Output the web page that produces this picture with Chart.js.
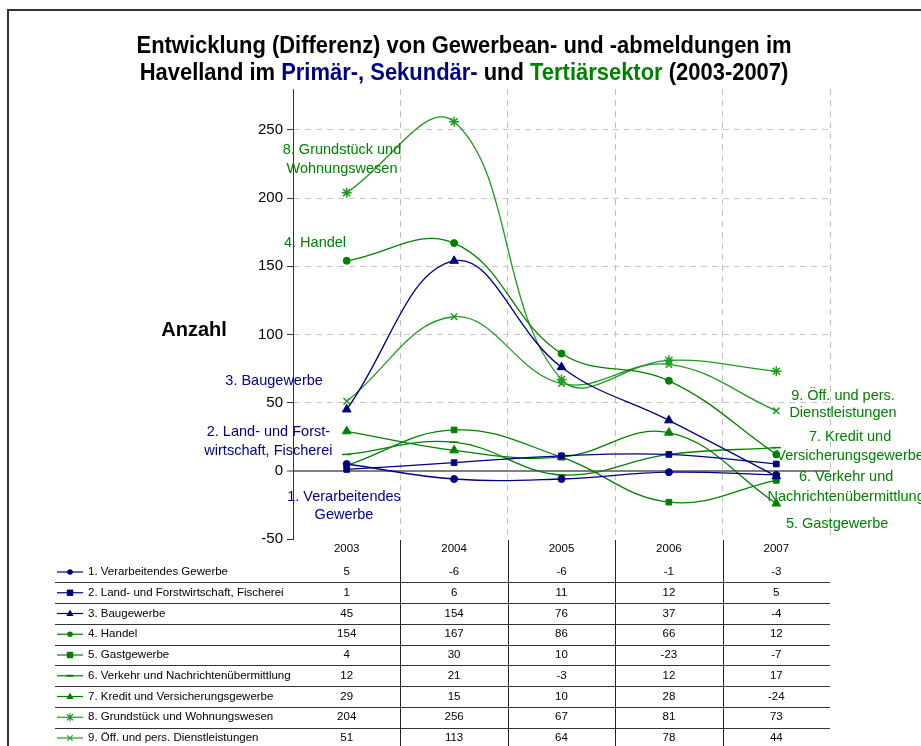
<!DOCTYPE html>
<html>
<head>
<meta charset="utf-8">
<script src="https://cdn.jsdelivr.net/npm/chart.js@4.4.1/dist/chart.umd.min.js"></script>
<style>
  html, body { margin: 0; padding: 0; background: #ffffff; }
  #wrap { position: relative; width: 921px; height: 746px; }
</style>
</head>
<body>
<div id="wrap"><canvas id="c"></canvas></div>
<script>
// ---------- DATA ----------
const categories = ['2003', '2004', '2005', '2006', '2007'];
const seriesNames = [
  '1. Verarbeitendes Gewerbe',
  '2. Land- und Forstwirtschaft, Fischerei',
  '3. Baugewerbe',
  '4. Handel',
  '5. Gastgewerbe',
  '6. Verkehr und Nachrichtenübermittlung',
  '7. Kredit und Versicherungsgewerbe',
  '8. Grundstück und Wohnungswesen',
  '9. Öff. und pers. Dienstleistungen'
];
const verarbeitendesGewerbe = [5, -6, -6, -1, -3];
const landForstwirtschaft   = [1, 6, 11, 12, 5];
const baugewerbe            = [45, 154, 76, 37, -4];
const handel                = [154, 167, 86, 66, 12];
const gastgewerbe           = [4, 30, 10, -23, -7];
const verkehrNachrichten    = [12, 21, -3, 12, 17];
const kreditVersicherung    = [29, 15, 10, 28, -24];
const grundstueckWohnung    = [204, 256, 67, 81, 73];
const oeffDienstleistungen  = [51, 113, 64, 78, 44];
const seriesValues = [verarbeitendesGewerbe, landForstwirtschaft, baugewerbe, handel,
  gastgewerbe, verkehrNachrichten, kreditVersicherung, grundstueckWohnung, oeffDienstleistungen];
const yTickValues = [-50, 0, 50, 100, 150, 200, 250];

// ---------- STYLES ----------
const NAVY = '#000080';
const GREEN = '#008000';
const LGREEN = '#1f9a1f';
const seriesColors = [NAVY, NAVY, NAVY, GREEN, GREEN, GREEN, GREEN, LGREEN, LGREEN];
const seriesMarkers = ['circle', 'rect', 'triangle', 'circle', 'rect', 'line', 'triangle', 'star', 'crossRot'];
const markerRadius = { circle: 3.5, rect: 4, triangle: 5, line: 4.5, star: 5, crossRot: 4.5 };
const FONT = '"Liberation Sans", Arial, Helvetica, sans-serif';

// in-chart annotation labels (placed in data units: category index, value)
const annotations = [
  { lines: ['8. Grundstück und', 'Wohnungswesen'], color: GREEN, xi: -0.044, yv: 235, lh: 19 },
  { lines: ['4. Handel'], color: GREEN, xi: -0.295, yv: 167, lh: 19 },
  { lines: ['3. Baugewerbe'], color: NAVY, xi: -0.676, yv: 66, lh: 19 },
  { lines: ['2. Land- und Forst-', 'wirtschaft, Fischerei'], color: NAVY, xi: -0.729, yv: 28.5, lh: 19 },
  { lines: ['1. Verarbeitendes', 'Gewerbe'], color: NAVY, xi: -0.025, yv: -19, lh: 18 },
  { lines: ['9. Öff. und pers.', 'Dienstleistungen'], color: GREEN, xi: 4.621, yv: 55, lh: 17 },
  { lines: ['7. Kredit und', 'Versicherungsgewerbe'], color: GREEN, xi: 4.687, yv: 25, lh: 19 },
  { lines: ['6. Verkehr und', 'Nachrichtenübermittlung'], color: GREEN, xi: 4.65, yv: -4.5, lh: 20 },
  { lines: ['5. Gastgewerbe'], color: GREEN, xi: 4.566, yv: -39, lh: 19 }
];

function drawMarker(ctx, style, x, y, r, color) {
  ctx.save();
  ctx.fillStyle = color;
  ctx.strokeStyle = color;
  ctx.lineWidth = 1.2;
  ctx.beginPath();
  if (style === 'circle') {
    ctx.arc(x, y, r, 0, Math.PI * 2); ctx.fill();
  } else if (style === 'rect') {
    ctx.fillRect(x - r, y - r, 2 * r, 2 * r);
  } else if (style === 'triangle') {
    ctx.moveTo(x, y - r); ctx.lineTo(x + r * 0.9, y + r * 0.6); ctx.lineTo(x - r * 0.9, y + r * 0.6);
    ctx.closePath(); ctx.fill();
  } else if (style === 'line') {
    ctx.lineWidth = 2; ctx.moveTo(x - r, y); ctx.lineTo(x + r, y); ctx.stroke();
  } else if (style === 'star') {
    const d = r * 0.75;
    ctx.moveTo(x - d, y - d); ctx.lineTo(x + d, y + d);
    ctx.moveTo(x - d, y + d); ctx.lineTo(x + d, y - d);
    ctx.moveTo(x, y - r); ctx.lineTo(x, y + r); ctx.stroke();
  } else if (style === 'crossRot') {
    const d = r * 0.75;
    ctx.moveTo(x - d, y - d); ctx.lineTo(x + d, y + d);
    ctx.moveTo(x - d, y + d); ctx.lineTo(x + d, y - d); ctx.stroke();
  }
  ctx.restore();
}

const decorPlugin = {
  id: 'decor',
  beforeDraw(chart) {
    const ctx = chart.ctx;
    ctx.save();
    ctx.fillStyle = '#ffffff';
    ctx.fillRect(0, 0, chart.width, chart.height);
    // frame
    ctx.strokeStyle = '#333333';
    ctx.lineWidth = 2;
    ctx.beginPath();
    ctx.moveTo(8, chart.height); ctx.lineTo(8, 10); ctx.lineTo(chart.width, 10);
    ctx.stroke();
    ctx.restore();
  },
  afterDraw(chart) {
    const ctx = chart.ctx;
    const xs = chart.scales.x, ys = chart.scales.y;
    const area = chart.chartArea;
    ctx.save();
    // ----- title (slightly condensed bold face) -----
    ctx.font = 'bold 23px ' + FONT;
    ctx.textBaseline = 'middle';
    ctx.textAlign = 'left';
    const cx = 464;
    const l1 = 'Entwicklung (Differenz) von Gewerbean- und -abmeldungen im';
    const w1 = ctx.measureText(l1).width;
    const sx = 655 / w1;
    ctx.save();
    ctx.translate(cx, 0);
    ctx.scale(sx, 1);
    ctx.fillStyle = '#000000';
    ctx.fillText(l1, -w1 / 2, 47);
    const parts = [['Havelland im ', '#000000'], ['Primär-, Sekundär-', NAVY], [' und ', '#000000'],
      ['Tertiärsektor', GREEN], [' (2003-2007)', '#000000']];
    let tw = 0;
    parts.forEach(p => tw += ctx.measureText(p[0]).width);
    let px = -tw / 2;
    parts.forEach(p => { ctx.fillStyle = p[1]; ctx.fillText(p[0], px, 74); px += ctx.measureText(p[0]).width; });
    ctx.restore();
    // ----- axis title -----
    ctx.font = 'bold 20px ' + FONT;
    ctx.textAlign = 'center';
    ctx.fillStyle = '#000000';
    ctx.fillText('Anzahl', 194, 330);
    // ----- annotations -----
    ctx.font = '14.5px ' + FONT;
    annotations.forEach(a => {
      const ax = xs.getPixelForValue(a.xi);
      const ay = ys.getPixelForValue(a.yv);
      ctx.fillStyle = a.color;
      a.lines.forEach((t, i) => ctx.fillText(t, ax, ay + i * a.lh));
    });
    // ----- data table -----
    const top = area.bottom;
    const n = categories.length;
    const colW = (xs.right - xs.left) / n;
    ctx.font = '11.5px ' + FONT;
    ctx.fillStyle = '#000000';
    ctx.textAlign = 'center';
    categories.forEach((c, i) => ctx.fillText(c, xs.getPixelForValue(i), top + 10));
    const rowH = 20.75;
    const firstRow = top + 33;
    const tableLeft = 55;
    // vertical lines
    ctx.strokeStyle = '#222222';
    ctx.lineWidth = 1;
    for (let i = 1; i < n; i++) {
      const vx = Math.round(xs.getPixelForValue(i) - colW / 2) + 0.5;
      ctx.beginPath(); ctx.moveTo(vx, top + 1); ctx.lineTo(vx, chart.height); ctx.stroke();
    }
    seriesNames.forEach((name, r) => {
      const ry = firstRow + r * rowH;
      if (r < seriesNames.length - 1) {
        const sy = Math.round(ry + rowH / 2) + 0.5;
        ctx.strokeStyle = '#333333';
        ctx.beginPath(); ctx.moveTo(tableLeft, sy); ctx.lineTo(xs.right, sy); ctx.stroke();
      }
      // legend key
      ctx.save();
      ctx.strokeStyle = seriesColors[r];
      ctx.lineWidth = 1.2;
      ctx.beginPath(); ctx.moveTo(57, ry); ctx.lineTo(83, ry); ctx.stroke();
      ctx.restore();
      const st = seriesMarkers[r];
      drawMarker(ctx, st, 70, ry, st === 'line' ? 3.5 : markerRadius[st] * 0.8, seriesColors[r]);
      ctx.fillStyle = '#000000';
      ctx.textAlign = 'left';
      ctx.fillText(name, 88, ry);
      ctx.textAlign = 'center';
      seriesValues[r].forEach((v, i) => ctx.fillText(String(v), xs.getPixelForValue(i), ry));
    });
    ctx.restore();
  }
};

const datasets = seriesNames.map((name, i) => ({
  label: name,
  data: seriesValues[i],
  borderColor: seriesColors[i],
  backgroundColor: seriesColors[i],
  borderWidth: 1.3,
  tension: 0.4,
  fill: false,
  pointStyle: seriesMarkers[i],
  pointRadius: markerRadius[seriesMarkers[i]],
  pointBorderWidth: (seriesMarkers[i] === 'line' || seriesMarkers[i] === 'star' || seriesMarkers[i] === 'crossRot') ? 1.5 : 1,
  pointBackgroundColor: seriesColors[i],
  pointBorderColor: seriesColors[i]
}));

new Chart(document.getElementById('c'), {
  type: 'line',
  data: { labels: categories, datasets },
  options: {
    responsive: true,
    maintainAspectRatio: false,
    animation: false,
    events: [],
    layout: { padding: { top: 89, right: 91, bottom: 0, left: 0 } },
    plugins: { legend: { display: false }, title: { display: false }, tooltip: { enabled: false } },
    scales: {
      x: {
        offset: true,
        afterFit: s => { s.height = 207; },
        ticks: { display: false },
        border: { display: false, dash: [6, 5] },
        grid: {
          offset: true,
          drawTicks: false,
          color: c => (c.index === 0 && c.type === 'tick') ? 'rgba(0,0,0,0)' : '#c0c0c0',
          lineWidth: 1
        }
      },
      y: {
        min: -50,
        max: 280,
        afterFit: s => { s.width = 293; },
        afterBuildTicks: s => { s.ticks = yTickValues.map(v => ({ value: v })); },
        ticks: { stepSize: 50, color: '#000000', font: { family: FONT, size: 15 }, padding: 4 },
        border: { display: true, color: '#333333', width: 1,
          dash: c => (c.type === 'tick' && c.tick && c.tick.value !== 0) ? [6, 5] : [] },
        grid: {
          color: c => {
            if (c.type !== 'tick') return '#c0c0c0';
            if (c.tick.value === 0) return '#808080';
            if (c.tick.value === -50) return 'rgba(0,0,0,0)';
            return '#c8c8c8';
          },
          lineWidth: c => (c.type === 'tick' && c.tick.value === 0) ? 2 : 1,
          tickColor: '#333333',
          tickLength: 6,
          tickWidth: 1,
          tickBorderDash: []
        }
      }
    }
  },
  plugins: [decorPlugin]
});
</script>
</body>
</html>
